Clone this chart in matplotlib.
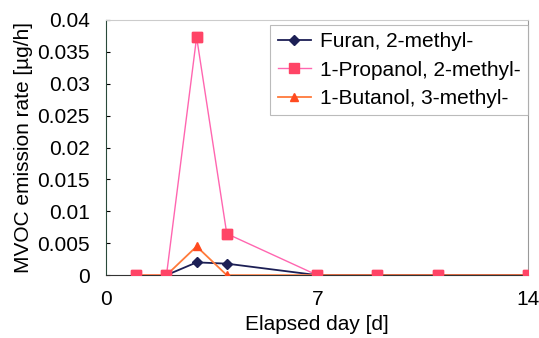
import matplotlib
matplotlib.use("Agg")
import matplotlib.pyplot as plt

plt.rcParams["font.family"] = ["Liberation Sans", "DejaVu Sans"]

# elapsed days and emission rates
days = [1, 2, 3, 4, 7, 9, 11, 14]
furan = [0, 0, 0.0020, 0.0018, 0, 0, 0, 0]
propanol = [0, 0, 0.0373, 0.0065, 0, 0, 0, 0]
butanol = [0, 0, 0.0045, 0, 0, 0, 0, 0]

x_ticks = [0, 7, 14]
y_ticks = [0, 0.005, 0.01, 0.015, 0.02, 0.025, 0.03, 0.035, 0.04]
y_tick_labels = ["0", "0.005", "0.01", "0.015", "0.02", "0.025", "0.03", "0.035", "0.04"]

fs = 15

fig = plt.figure(figsize=(5.39, 3.38), dpi=100)
ax = fig.add_axes([0.197, 0.186, 0.783, 0.755])

ax.plot(days[1:], furan[1:], color="#1c1f55", marker="D", markersize=5,
        linewidth=1.3, label="Furan, 2-methyl-", zorder=3)
ax.plot(days, propanol, color="#ff66b0", marker="s", markersize=7,
        markerfacecolor="#ff4466", markeredgecolor="#ff4466",
        linewidth=1.0, label="1-Propanol, 2-methyl-", zorder=2)
ax.plot(days, butanol, color="#ff7a3a", marker="^", markersize=6,
        markerfacecolor="#ff4a20", markeredgecolor="#ff4a20",
        linewidth=1.3, label="1-Butanol, 3-methyl-", zorder=4)
# propanol squares sit on top of the zero line
ax.plot(days, propanol, linestyle="none", marker="s", markersize=7,
        markerfacecolor="#ff4466", markeredgecolor="#ff4466", zorder=5)

ax.set_xlim(0, 14)
ax.set_ylim(0, 0.04)
ax.set_xticks(x_ticks)
ax.set_yticks(y_ticks)
ax.set_yticklabels(y_tick_labels)
ax.tick_params(axis="x", length=0, pad=11, labelsize=fs)
ax.tick_params(axis="y", direction="in", length=3, pad=12, labelsize=fs)

ax.set_xlabel("Elapsed day [d]", fontsize=fs, labelpad=4)
ax.set_ylabel("MVOC emission rate [µg/h]", fontsize=fs, labelpad=3)

ax.spines["left"].set_color("#2a4a3a")
ax.spines["bottom"].set_color("#333333")
ax.spines["top"].set_color("#cccccc")
ax.spines["right"].set_color("#999999")

leg = ax.legend(loc="upper right", bbox_to_anchor=(1.0, 0.98), fontsize=fs,
                frameon=True, fancybox=False, edgecolor="#aaaaaa",
                handlelength=1.6, handletextpad=0.45, borderpad=0.35,
                labelspacing=0.45, borderaxespad=0)
leg.get_frame().set_linewidth(0.8)

fig.savefig("out.png", dpi=100)
